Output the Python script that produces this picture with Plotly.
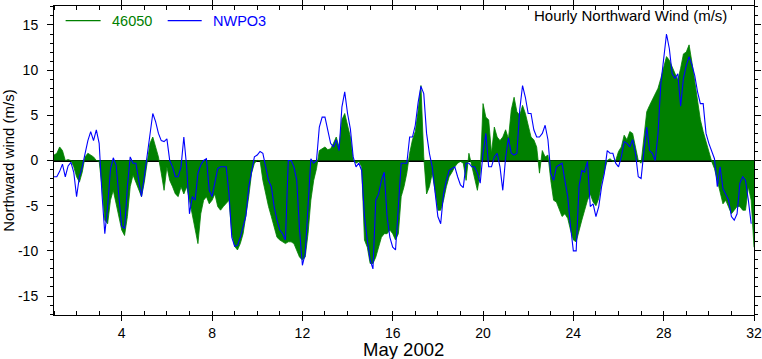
import numpy as np
import plotly.graph_objects as go

# 3-hourly samples, May 1 00Z .. May 31 21Z (8 values per day)
nwpo3 = [
    -1.8, -1.8, -1.2, -0.4, -1.8, -0.6, -0.2, -1.3,   # 1
    -4.0, -1.8, -0.7, 0.8, 2.2, 3.2, 2.2, 3.4,        # 2
    1.9, -3.7, -8.1, -5.1, -1.0, 0.3, -0.5, -4.0,     # 3
    -7.3, -7.5, -2.9, 0.4, -0.3, -0.3, -2.2, -4.0,    # 4
    -1.8, 0.4, 3.0, 5.2, 4.3, 3.0, 2.2, 2.1,          # 5
    2.4, 0.0, -0.7, -1.8, -1.8, -0.7, 2.6, -0.7,      # 6
    -5.9, -4.0, -4.4, -1.4, -0.5, 0.0, 0.2, -3.3,     # 7
    -4.0, -2.5, -0.9, -0.7, -0.7, -0.7, -3.7, -8.5,   # 8
    -9.5, -9.4, -8.5, -7.3, -6.1, -2.9, -1.1, 0.4,    # 9
    0.6, 1.0, 0.8, -0.6, -2.2, -2.9, -5.1, -6.6,      # 10
    -7.7, -8.1, -8.8, 0.0, 0.0, -0.7, -2.2, -7.7,     # 11
    -11.6, -10.3, -4.4, 0.2, -0.3, 0.0, 3.7, 4.8,     # 12
    4.8, 3.5, 1.9, 1.5, 2.3, 1.1, 5.9, 7.6,           # 13
    5.2, 3.5, 0.4, -0.7, -0.3, -1.1, -6.2, -8.8,      # 14
    -11.0, -12.0, -4.4, -3.7, -2.2, -1.3, -6.2, -8.5, # 15
    -9.6, -9.9, -5.1, -0.3, -0.3, -0.3, 2.6, 2.6,     # 16
    3.9, 6.4, 8.2, 7.4, 3.0, 0.8, -0.7, -3.7,         # 17
    -6.2, -7.0, -3.7, -2.2, -1.1, -0.9, -0.7, -1.8,   # 18
    -2.7, -3.0, -0.3, -0.3, -0.7, -0.7, -1.4, -2.5,   # 19
    0.8, 3.0, -0.7, -0.7, 0.4, 0.8, -0.7, -3.3,       # 20
    0.3, 2.5, 0.8, 0.6, 0.8, 5.6, 8.3, 7.0,           # 21
    5.2, 5.2, 3.4, 2.6, 2.6, 3.0, 3.9, 2.3,           # 22
    -1.4, -2.2, -0.7, -0.5, -0.3, -2.2, -4.0, -7.3,   # 23
    -10.0, -10.0, -2.9, -1.1, -1.3, -0.1, -5.1, -4.8, # 24
    -6.2, -5.1, -2.9, -1.4, 1.1, 0.8, 0.8, -0.3,      # 25
    -0.7, 0.4, 2.1, 1.9, 1.5, 2.3, 0.8, -1.8,         # 26
    -2.0, 1.0, 3.7, 1.1, 0.8, 0.0, 3.0, 8.5,          # 27
    11.1, 14.0, 12.4, 9.6, 9.1, 9.6, 6.0, 9.1,        # 28
    10.5, 11.5, 10.6, 9.4, 7.6, 6.3, 6.3, 3.0,        # 29
    1.9, 1.0, 0.2, -2.9, -0.7, -3.1, -3.7, -4.4,      # 30
    -6.2, -6.6, -5.9, -2.5, -1.8, -2.2, -4.4, -7.0,   # 31
]

b46050 = [
    0.6, 0.8, 1.5, 1.1, 0.0, 0.1, 0.0, -0.7,          # 1
    -1.8, -2.4, -1.3, 0.4, 0.8, 0.6, 0.4, 0.0,        # 2
    -0.1, -2.9, -6.6, -7.0, -4.4, -3.3, -4.8, -6.6,   # 3
    -7.7, -8.3, -6.2, -2.9, -1.6, -2.4, -3.1, -4.0,   # 4
    -2.4, -0.1, 1.9, 2.6, 1.5, 0.4, -1.4, -3.3,       # 5
    -0.7, -2.2, -2.9, -3.7, -4.0, -2.9, -3.7, -2.9,   # 6
    -4.4, -5.9, -7.3, -9.2, -5.9, -4.4, -4.0, -4.8,   # 7
    -4.4, -3.7, -5.1, -5.5, -5.1, -4.8, -4.4, -8.1,   # 8
    -9.5, -9.9, -9.2, -8.1, -6.2, -4.0, -1.4, -0.3,   # 9
    0.0, 0.0, -2.2, -3.7, -5.1, -6.2, -7.3, -8.5,     # 10
    -8.8, -9.0, -9.2, -9.0, -9.0, -9.2, -9.9, -10.7,  # 11
    -11.0, -10.7, -8.1, -4.4, -2.2, -0.9, 1.1, 1.3,   # 12
    1.5, 1.2, 1.3, 1.9, 2.6, 1.5, 4.5, 5.2,           # 13
    3.7, 2.6, 0.0, -0.3, -0.1, -0.7, -8.8, -9.6,      # 14
    -11.4, -11.4, -10.7, -9.6, -8.5, -8.1, -8.1, -7.7,# 15
    -8.1, -8.8, -8.1, -4.0, -2.9, -1.4, 0.8, 2.3,     # 16
    3.2, 5.5, 8.3, 0.4, -3.7, -2.9, -1.4, -3.3,       # 17
    -5.5, -5.5, -4.4, -2.9, -1.8, -1.3, -0.7, -0.3,   # 18
    -0.1, -0.3, -2.2, 0.8, -0.7, -2.2, -3.3, -1.4,    # 19
    6.3, 4.8, 4.5, 0.8, 3.7, 2.6, 2.2, 2.6,           # 20
    3.4, 2.4, 5.6, 7.0, 5.4, 5.0, 6.1, 5.2,           # 21
    3.7, 2.6, 2.3, 1.5, -1.4, 1.1, 0.4, 0.6,          # 22
    -2.2, -4.4, -4.6, -5.3, -6.2, -5.9, -6.4, -7.7,   # 23
    -8.8, -9.0, -7.7, -6.6, -5.5, -4.4, -3.7, -4.6,   # 24
    -5.0, -4.2, -2.4, -1.1, 0.0, 0.2, -0.1, 0.0,      # 25
    1.0, 1.5, 2.8, 2.3, 3.2, 3.0, 1.5, 0.0,           # 26
    -0.3, 2.3, 5.4, 6.1, 6.7, 7.4, 8.0, 9.1,          # 27
    10.4, 11.5, 11.1, 10.4, 9.8, 8.9, 10.2, 11.8,     # 28
    12.0, 12.8, 10.9, 8.7, 6.9, 4.5, 3.2, 2.1,        # 29
    0.8, -0.1, -0.9, -2.2, -3.3, -4.8, -4.4, -5.1,    # 30
    -5.9, -5.5, -5.1, -5.1, -5.5, -5.5, -2.9, -4.4,   # 31
    -9.6,                                             # June 1 00Z
]

step_hours = 3
x_blue = 1 + np.arange(len(nwpo3)) * step_hours / 24.0
x_green = 1 + np.arange(len(b46050)) * step_hours / 24.0

x_ticks = [4, 8, 12, 16, 20, 24, 28, 32]
y_ticks = [-15, -10, -5, 0, 5, 10, 15]

FONT = "Liberation Sans, Arial, Helvetica, sans-serif"
GREEN = "#008000"
BLUE = "#0000ff"

fig = go.Figure()
fig.add_trace(go.Scatter(
    x=x_green, y=b46050, name="46050", mode="lines",
    line=dict(color=GREEN, width=0.8), fill="tozeroy", fillcolor=GREEN,
    showlegend=False,
))
fig.add_trace(go.Scatter(
    x=x_blue, y=nwpo3, name="NWPO3", mode="lines",
    line=dict(color=BLUE, width=1.1), showlegend=False,
))

# manual legend (paper coordinates)
LEG_Y = 0.9524
shapes = [
    dict(type="line", xref="paper", yref="paper", x0=0.0166, x1=0.0666,
         y0=LEG_Y, y1=LEG_Y, line=dict(color=GREEN, width=1.2)),
    dict(type="line", xref="paper", yref="paper", x0=0.1624, x1=0.2110,
         y0=LEG_Y, y1=LEG_Y, line=dict(color=BLUE, width=1.2)),
]
annotations = [
    dict(text="46050", xref="paper", yref="paper", x=0.0795, y=LEG_Y,
         xanchor="left", yanchor="middle", showarrow=False,
         font=dict(size=14.5, family=FONT, color=GREEN)),
    dict(text="NWPO3", xref="paper", yref="paper", x=0.2239, y=LEG_Y,
         xanchor="left", yanchor="middle", showarrow=False,
         font=dict(size=14.5, family=FONT, color=BLUE)),
    dict(text="Hourly Northward Wind (m/s)", xref="paper", yref="paper",
         x=0.9643, y=0.968, xanchor="right", yanchor="middle",
         showarrow=False, font=dict(size=15, family=FONT, color="black")),
    dict(text="May 2002", xref="paper", yref="paper", x=0.4997, y=-0.111,
         xanchor="center", yanchor="middle", showarrow=False,
         font=dict(size=18.5, family=FONT, color="black")),
]

fig.update_layout(
    width=762, height=359,
    margin=dict(l=54, r=8, t=6, b=44, autoexpand=False),
    paper_bgcolor="white", plot_bgcolor="white",
    font=dict(family=FONT, color="black", size=14),
    showlegend=False,
    shapes=shapes,
    annotations=annotations,
)

fig.update_xaxes(
    range=[1, 32], tickmode="array", tickvals=x_ticks,
    ticktext=[str(v) for v in x_ticks], automargin=False,
    showgrid=False, zeroline=False,
    showline=True, linecolor="black", linewidth=1, mirror="ticks",
    ticks="outside", ticklen=5, tickcolor="black", tickwidth=1,
    minor=dict(ticks="inside", ticklen=4, tickcolor="black", dtick=1, tick0=0, showgrid=False),
    tickfont=dict(size=14, family=FONT),
)
fig.update_yaxes(
    range=[-17.1, 17.1], tickmode="array", tickvals=y_ticks,
    ticktext=[str(v) for v in y_ticks], automargin=False,
    showgrid=False,
    zeroline=True, zerolinecolor="black", zerolinewidth=1.5,
    showline=True, linecolor="black", linewidth=1, mirror="ticks",
    ticks="outside", ticklen=6, tickcolor="black", tickwidth=1,
    minor=dict(ticks="outside", ticklen=3, tickcolor="black", dtick=1, tick0=0, showgrid=False),
    tickfont=dict(size=14, family=FONT), ticklabelstandoff=6,
    title=dict(text="Northward wind (m/s)", font=dict(size=15, family=FONT), standoff=6),
    layer="above traces",
)

fig.write_html(
    "out.html",
    config={"displayModeBar": False},
    post_script="document.body.style.margin='0px';document.body.style.padding='0px';",
)
